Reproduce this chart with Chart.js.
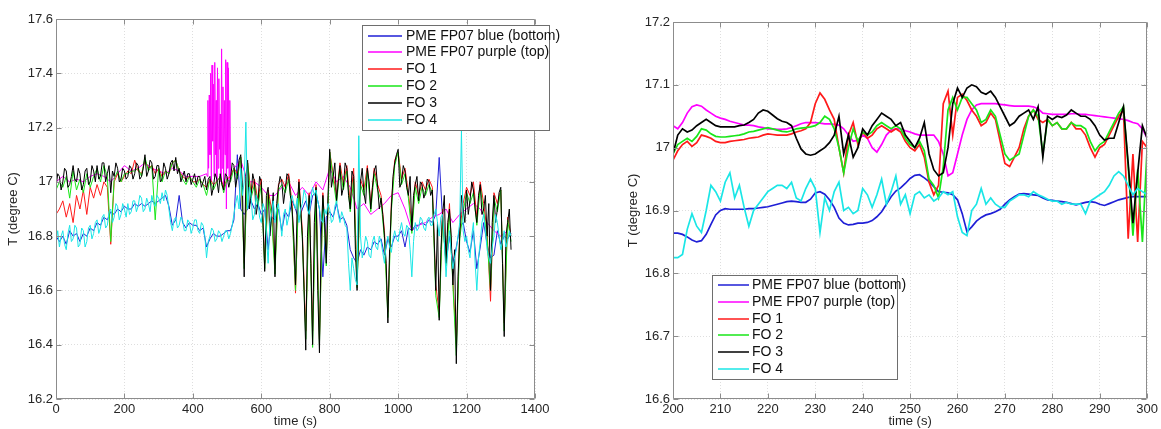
<!DOCTYPE html>
<html><head><meta charset="utf-8">
<script src="https://cdn.jsdelivr.net/npm/chart.js@4.4.1/dist/chart.umd.min.js"></script>
<style>
html,body{margin:0;padding:0;background:#fff;width:1161px;height:429px;overflow:hidden}
#cl{position:absolute;left:0;top:0}
#cr{position:absolute;left:580px;top:0}
</style></head><body>
<canvas id="cl" width="580" height="429"></canvas>
<canvas id="cr" width="581" height="429"></canvas>
<script>
// ---------- series labels ----------
const seriesLabels = ['PME FP07 blue (bottom)','PME FP07 purple (top)','FO 1','FO 2','FO 3','FO 4'];
const seriesColors = ['#1f1fd6','#ff00ff','#ff1a1a','#19e619','#000000','#1ae6e6'];

// ---------- LEFT panel (0-1400 s) ----------
const leftTimes = [0,10,20,30,40,50,60,70,80,90,100,110,120,130,140,150,160,170,180,190,
200,210,220,230,240,250,260,270,280,290,300,310,320,330,340,350,360,370,380,390,
400,410,420,430,440,450,460,470,480,490,500,510,520,530,540,550,560,570,580,590,
600,610,620,630,640,650,660,670,680,690,700,710,720,730,740,750,760,770,780,790,
800,810,820,830,840,850,860,870,880,890,900,910,920,930,940,950,960,970,980,990,
1000,1010,1020,1030,1040,1050,1060,1070,1080,1090,1100,1110,1120,1130,1140,1150,1160,1170,1180,1190,
1200,1210,1220,1230,1240,1250,1260,1270,1280,1290,1300,1310,1320,1330];

const leftFineTimes = [0,5,10,15,20,25,30,35,40,45,50,55,60,65,70,75,80,85,90,95,
100,105,110,115,120,125,130,135,140,145,150,155,160,165,170,175,180,185,190,195,
200,205,210,215,220,225,230,235,240,245,250,255,260,265,270,275,280,285,290,295,
300,305,310,315,320,325,330,335,340,345,350,355,360,365,370,375,380,385,390,395,
400,405,410,415,420,425,430,435,440,445,450,455,460,465,470,475,480,485,490,495,
500,505,510,515,520,525,530,535,540,545,550,555,560,565,570,575,580,585,590,595,
600,605,610,615,620,625,630,635,640,645,650,655,660,665,670,675,680,685,690,695,
700,705,710,715,720,725,730,735,740,745,750,755,760,765,770,775,780,785,790,795,
800,805,810,815,820,825,830,835,840,845,850,855,860,865,870,875,880,885,890,895,
900,905,910,915,920,925,930,935,940,945,950,955,960,965,970,975,980,985,990,995,
1000,1005,1010,1015,1020,1025,1030,1035,1040,1045,1050,1055,1060,1065,1070,1075,1080,1085,1090,1095,
1100,1105,1110,1115,1120,1125,1130,1135,1140,1145,1150,1155,1160,1165,1170,1175,1180,1185,1190,1195,
1200,1205,1210,1215,1220,1225,1230,1235,1240,1245,1250,1255,1260,1265,1270,1275,1280,1285,1290,1295,
1300,1305,1310,1315,1320,1325,1330];

const leftBlue = [16.80,16.78,16.80,16.77,16.82,16.80,16.81,16.78,16.81,16.80,
16.83,16.82,16.85,16.84,16.87,16.86,16.89,16.88,16.90,16.89,
16.91,16.90,16.90,16.92,16.91,16.92,16.91,16.92,16.93,16.92,
16.93,16.94,16.95,16.91,16.84,16.86,16.95,16.85,16.83,16.85,
16.84,16.84,16.82,16.83,16.76,16.79,16.81,16.80,16.80,16.81,
16.82,16.82,16.86,17.10,16.90,16.88,16.90,16.93,16.90,16.92,
16.88,16.90,16.75,16.87,16.86,16.90,16.82,16.89,16.87,16.93,
16.90,16.86,16.90,16.93,16.88,16.95,16.96,16.90,16.65,16.87,
16.89,16.87,16.92,16.86,16.87,16.84,16.75,16.72,16.70,16.75,
16.73,16.76,16.75,16.78,16.77,16.79,16.73,16.79,16.76,16.80,
16.80,16.82,16.76,16.83,16.82,16.84,16.84,16.85,16.84,16.86,
16.85,16.88,17.09,16.86,16.70,16.80,16.70,16.76,16.83,16.85,
16.78,16.74,16.82,16.68,16.76,16.85,16.77,16.72,16.73,16.82,
16.77,16.80,16.79,16.81];

const leftPurpleTimes = [0,20,40,60,80,100,120,140,160,180,200,220,240,260,280,300,320,340,360,380,400,420,440,
442,444,446,448,450,452,454,456,458,460,462,464,466,468,470,472,474,476,478,480,482,484,486,488,490,492,494,496,498,500,502,504,506,508,510,
520,540,560,580,600,620,640,660,680,700,720,740,760,780,800,820,840,860,880,900,920,940,960,980,1000,
1020,1040,1060,1080,1100,1120,1140,1160,1180,1200,1220,1240,1260,1280,1300,1320];
const leftPurple = [17.00,17.02,17.00,17.01,17.00,17.02,17.03,17.02,17.00,17.03,17.06,17.04,17.05,17.07,17.05,17.04,17.03,17.05,17.04,17.02,17.02,17.02,17.03,
17.02,17.30,17.05,17.32,17.10,17.40,17.00,17.43,17.15,17.36,17.02,17.44,17.10,17.30,17.00,17.42,17.05,17.38,17.12,17.25,17.00,17.49,17.05,17.35,16.96,17.30,17.10,17.45,16.90,17.44,17.05,17.42,17.00,17.30,17.02,
17.05,17.08,17.00,17.00,16.98,16.95,16.95,16.98,17.00,16.95,16.98,16.95,17.00,16.97,17.05,17.00,17.02,16.98,16.90,16.92,16.88,16.90,16.92,16.95,16.96,
16.90,16.82,16.84,16.85,16.87,16.88,16.90,16.85,16.88,16.90,16.92,16.90,16.85,16.82,16.80,16.82];

const leftFO1 = [16.88,16.90,16.93,16.87,16.92,16.85,16.95,16.90,16.97,16.88,
16.98,16.94,16.99,16.95,17.00,16.98,16.77,17.00,17.03,17.00,
17.02,17.04,17.03,17.08,17.04,17.03,17.08,17.05,17.06,17.03,
17.05,17.02,17.04,17.03,17.07,17.08,17.04,17.02,17.01,17.02,
17.00,17.00,17.01,16.99,16.98,17.01,16.99,17.00,17.02,16.98,
17.01,17.02,17.05,17.03,17.09,16.70,17.07,16.96,17.01,16.93,
17.01,16.70,16.97,16.90,16.68,16.99,17.01,16.98,17.03,16.92,
16.59,17.01,16.82,16.45,16.96,16.45,16.99,16.42,16.96,16.72,
17.11,17.03,16.95,17.07,16.99,17.06,16.92,17.05,16.63,17.01,
16.97,17.06,16.92,17.05,16.99,16.95,16.82,16.52,16.92,17.08,
17.11,17.01,17.05,16.96,16.84,17.00,16.95,17.00,16.97,17.01,
16.98,16.62,16.52,16.90,16.72,16.92,16.64,16.40,16.82,16.92,
16.98,16.95,17.00,16.87,17.00,16.92,16.82,16.56,16.96,16.92,
16.97,16.48,16.87,16.80];

const leftFO2 = [16.97,17.00,16.98,17.02,16.94,17.04,16.97,17.01,16.96,17.03,
16.98,17.02,17.05,17.00,17.06,17.02,16.78,17.01,17.04,17.00,
17.03,17.03,17.04,17.04,17.05,17.02,17.09,17.04,17.06,16.86,
17.05,17.00,17.04,17.03,17.07,17.08,17.04,17.01,16.99,17.02,
17.00,16.98,17.01,16.99,16.95,17.01,16.97,17.00,17.02,16.96,
17.01,17.00,17.05,17.01,17.09,16.68,17.07,16.94,16.99,16.91,
16.99,16.68,16.96,16.87,16.66,16.97,16.99,16.96,17.01,16.89,
16.60,16.99,16.79,16.42,16.94,16.39,16.97,16.40,16.94,16.69,
17.11,17.01,16.92,17.05,16.97,17.04,16.89,17.01,16.61,16.99,
16.95,17.04,16.89,17.03,16.97,16.93,16.79,16.50,16.89,17.06,
17.11,16.99,17.03,16.94,16.81,16.98,16.92,16.98,16.95,16.99,
16.96,16.58,16.50,16.87,16.69,16.89,16.62,16.36,16.79,16.89,
16.96,16.92,16.96,16.84,16.98,16.89,16.79,16.60,16.94,16.89,
16.97,16.45,16.86,16.78];

const leftFO3 = [16.98,17.03,17.02,16.97,17.00,17.05,17.04,16.98,16.99,17.02,17.06,17.01,17.00,17.05,17.03,16.97,16.99,17.04,17.05,16.99,
17.00,17.06,17.04,17.00,17.06,17.01,17.02,17.07,17.07,17.00,17.03,17.06,16.96,17.04,17.02,17.07,17.05,17.00,17.01,17.05,
17.04,17.01,17.02,17.06,17.05,17.01,17.03,17.07,17.06,17.01,17.02,17.05,17.10,17.02,17.04,17.08,17.07,17.01,17.02,17.06,
17.06,17.00,17.01,17.07,17.05,17.01,17.03,17.07,17.08,17.04,17.09,17.03,17.05,17.00,17.02,17.04,17.00,17.03,17.03,16.99,
17.01,17.03,16.99,17.02,17.02,16.98,17.00,17.02,16.97,17.01,17.02,16.95,16.98,17.03,17.01,16.96,17.03,16.99,16.97,17.03,
17.02,16.98,17.01,17.07,17.06,16.98,17.02,17.08,17.10,16.98,16.65,17.02,17.08,16.90,16.95,17.03,17.00,16.88,16.92,17.02,
17.00,16.85,16.67,16.95,16.98,16.80,16.88,16.96,16.65,16.92,16.98,17.02,17.00,16.92,16.97,17.03,17.02,16.95,16.90,16.80,
16.62,16.92,17.00,16.90,16.80,16.60,16.38,16.80,16.95,16.70,16.40,16.85,16.98,16.60,16.37,16.80,16.95,16.85,16.70,16.95,
17.12,16.98,17.02,17.07,16.93,17.00,17.06,16.95,16.98,17.07,17.05,16.95,16.90,17.04,17.02,16.75,16.60,16.90,17.00,17.05,
16.96,16.92,17.05,17.00,16.90,16.98,17.04,17.06,16.98,16.90,16.94,16.88,16.80,16.70,16.48,16.75,16.90,17.02,17.07,17.10,
17.12,16.98,17.00,17.06,17.04,16.98,16.95,17.02,16.82,16.95,16.99,17.02,16.93,17.00,16.99,16.94,16.96,17.01,17.00,16.95,
16.97,16.80,16.60,16.85,16.49,16.75,16.88,16.95,16.70,16.85,16.90,16.80,16.62,16.75,16.33,16.65,16.80,16.95,16.90,16.85,
16.97,16.88,16.93,17.00,16.97,16.90,16.85,16.95,16.99,16.88,16.90,16.95,16.80,16.92,16.60,16.85,16.95,16.85,16.90,16.96,
16.98,16.70,16.43,16.80,16.85,16.90,16.75];

const leftFO4 = [16.78,16.82,16.76,16.80,16.82,16.77,16.75,16.81,16.84,16.78,16.79,16.84,16.83,16.76,16.77,16.83,16.82,16.76,16.78,16.83,
16.84,16.79,16.81,16.85,16.86,16.81,16.83,16.87,16.88,16.83,16.84,16.89,16.90,16.85,16.87,16.92,16.91,16.86,16.88,16.92,
16.90,16.87,16.92,16.88,16.89,16.93,16.93,16.89,16.91,16.95,16.94,16.89,16.90,16.94,16.92,16.89,16.95,16.92,16.91,16.95,
16.94,16.92,16.96,16.93,16.97,16.95,16.90,16.85,16.82,16.86,16.87,16.83,16.84,16.87,16.86,16.82,16.82,16.86,16.85,16.81,
16.83,16.86,16.86,16.82,16.81,16.85,16.84,16.80,16.72,16.78,16.80,16.83,16.82,16.78,16.79,16.82,16.81,16.78,16.80,16.82,
16.82,16.79,16.81,16.84,16.88,16.92,16.95,16.90,17.05,16.95,17.00,17.22,16.90,16.98,16.95,16.86,16.88,16.95,16.93,16.87,
16.85,16.92,16.90,16.80,16.70,16.85,16.88,16.93,16.85,16.90,16.92,16.86,16.80,16.88,16.90,16.84,16.87,16.93,16.95,16.92,
16.90,16.94,16.85,16.90,16.92,16.97,16.95,16.90,16.88,16.94,16.98,16.95,16.97,16.93,16.90,16.86,16.85,16.90,16.88,16.92,
16.90,16.85,16.86,16.91,16.93,16.88,16.85,16.89,16.87,16.84,16.83,16.70,16.60,16.72,16.68,16.64,16.62,17.17,16.80,16.72,
16.75,16.80,16.78,16.73,16.72,16.78,16.80,16.76,16.75,16.80,16.78,16.74,16.70,16.77,16.80,16.76,16.74,16.79,16.82,16.79,
16.78,16.82,16.85,16.81,16.80,16.84,16.83,16.75,16.65,16.78,16.85,16.82,16.83,16.87,16.86,16.83,16.82,16.86,16.87,16.84,
16.84,16.88,16.90,16.85,16.80,16.87,16.88,16.78,16.65,16.75,16.82,16.74,16.68,16.72,16.75,16.80,16.85,17.19,16.82,16.78,
16.80,16.75,16.72,16.80,16.85,16.70,16.60,16.72,16.78,16.85,16.88,16.82,16.75,16.72,16.70,16.76,16.80,16.88,16.85,16.80,
16.75,16.78,16.82,16.76,16.78,16.82,16.80];

const leftXTicks = [0,200,400,600,800,1000,1200,1400];
const leftYTicks = [16.2,16.4,16.6,16.8,17.0,17.2,17.4,17.6];

// ---------- RIGHT panel (200-300 s) ----------
const rightTimes = [200,201,202,203,204,205,206,207,208,209,210,211,212,213,214,215,216,217,218,219,
220,221,222,223,224,225,226,227,228,229,230,231,232,233,234,235,236,237,238,239,
240,241,242,243,244,245,246,247,248,249,250,251,252,253,254,255,256,257,258,259,
260,261,262,263,264,265,266,267,268,269,270,271,272,273,274,275,276,277,278,279,
280,281,282,283,284,285,286,287,288,289,290,291,292,293,294,295,296,297,298,299,300];

const rightBlue = [16.864,16.864,16.862,16.858,16.853,16.850,16.852,16.862,16.878,16.893,
16.900,16.903,16.902,16.902,16.902,16.902,16.903,16.903,16.904,16.905,
16.906,16.908,16.910,16.912,16.914,16.915,16.914,16.913,16.913,16.918,
16.928,16.930,16.926,16.917,16.905,16.888,16.880,16.877,16.878,16.880,
16.880,16.881,16.884,16.890,16.898,16.910,16.922,16.931,16.936,16.943,
16.951,16.956,16.957,16.952,16.946,16.938,16.930,16.929,16.928,16.925,
16.917,16.895,16.866,16.874,16.883,16.889,16.893,16.895,16.898,16.902,
16.910,16.917,16.922,16.926,16.927,16.926,16.925,16.924,16.920,16.917,
16.916,16.915,16.914,16.913,16.911,16.909,16.911,16.913,16.914,16.913,
16.910,16.908,16.911,16.914,16.917,16.919,16.921,16.922,16.922,16.922,16.922];

const rightPurple = [17.035,17.030,17.040,17.055,17.065,17.068,17.066,17.060,17.055,17.050,
17.047,17.045,17.042,17.040,17.038,17.036,17.036,17.035,17.033,17.032,
17.030,17.030,17.029,17.029,17.030,17.032,17.035,17.038,17.040,17.040,
17.040,17.039,17.038,17.038,17.037,17.036,17.030,17.020,17.010,17.012,
17.020,17.015,17.000,16.993,17.005,17.020,17.028,17.030,17.030,17.027,
17.025,17.022,17.020,17.020,17.020,17.020,17.010,16.990,16.955,16.960,
16.990,17.020,17.045,17.060,17.068,17.070,17.070,17.070,17.070,17.069,
17.068,17.067,17.066,17.066,17.066,17.066,17.065,17.062,17.055,17.054,
17.053,17.053,17.053,17.053,17.054,17.054,17.053,17.053,17.052,17.051,
17.050,17.049,17.048,17.047,17.046,17.045,17.043,17.040,17.038,17.030,17.015];

const rightFO1 = [16.980,16.995,17.005,17.010,17.002,17.008,17.020,17.018,17.015,17.010,
17.008,17.008,17.010,17.011,17.012,17.013,17.015,17.016,17.017,17.020,
17.022,17.021,17.020,17.020,17.020,17.022,17.025,17.027,17.030,17.040,
17.070,17.087,17.077,17.060,17.045,17.000,16.960,17.020,17.040,17.005,
17.025,17.015,17.020,17.030,17.035,17.030,17.025,17.030,17.025,17.010,
17.000,16.995,17.005,16.985,16.945,16.925,16.940,17.070,17.090,17.020,
17.080,17.085,17.075,17.060,17.050,17.035,17.040,17.055,17.045,17.010,
16.975,16.970,16.985,17.000,17.030,17.050,17.060,17.045,17.040,17.045,
17.035,17.040,17.030,17.030,17.040,17.030,17.030,17.020,17.000,16.985,
17.000,17.005,17.020,17.035,17.050,17.060,16.855,16.990,16.850,17.010,17.000];

const rightFO2 = [16.990,17.005,17.010,17.015,17.010,17.018,17.030,17.028,17.022,17.018,
17.017,17.017,17.018,17.019,17.020,17.022,17.025,17.026,17.028,17.030,
17.032,17.030,17.028,17.026,17.025,17.027,17.030,17.031,17.032,17.033,
17.035,17.040,17.050,17.045,17.030,17.000,16.960,17.000,17.030,17.010,
17.025,17.020,17.025,17.035,17.040,17.035,17.030,17.035,17.030,17.015,
17.005,17.000,17.010,16.995,16.950,16.940,16.920,16.970,17.060,17.080,
17.060,17.080,17.080,17.070,17.060,17.040,17.045,17.060,17.050,17.020,
16.990,16.980,16.985,16.990,17.020,17.050,17.060,17.050,16.990,17.045,
17.035,17.040,17.030,17.030,17.040,17.035,17.035,17.030,17.010,16.995,
17.005,17.010,17.025,17.040,17.055,17.065,16.970,16.860,16.965,16.850,17.000];

const rightFO3 = [16.990,17.020,17.030,17.025,17.028,17.035,17.040,17.045,17.040,17.035,
17.033,17.033,17.033,17.033,17.035,17.036,17.040,17.045,17.055,17.060,
17.058,17.052,17.046,17.042,17.040,17.035,17.015,16.998,16.990,16.988,
16.990,16.995,17.000,17.008,17.020,17.050,16.990,17.020,16.985,17.000,
17.030,17.020,17.035,17.045,17.055,17.050,17.045,17.035,17.040,17.020,
17.010,17.000,17.015,17.040,16.990,16.965,16.955,16.960,17.000,17.070,
17.095,17.080,17.095,17.100,17.097,17.088,17.085,17.090,17.080,17.065,
17.050,17.035,17.040,17.050,17.055,17.060,17.045,17.065,16.985,17.050,
17.045,17.050,17.048,17.052,17.060,17.055,17.050,17.050,17.045,17.035,
17.020,17.012,17.015,17.015,17.040,17.065,16.975,16.880,16.960,17.035,17.015];

const rightFO4 = [16.825,16.825,16.830,16.870,16.895,16.875,16.865,16.900,16.940,16.930,
16.915,16.945,16.960,16.920,16.940,16.905,16.875,16.900,16.910,16.920,
16.930,16.935,16.940,16.940,16.935,16.945,16.920,16.915,16.935,16.950,
16.935,16.865,16.920,16.900,16.930,16.945,16.900,16.905,16.895,16.900,
16.935,16.925,16.905,16.925,16.950,16.910,16.930,16.955,16.910,16.925,
16.895,16.925,16.930,16.920,16.925,16.915,16.920,16.930,16.925,16.930,
16.890,16.865,16.860,16.900,16.910,16.935,16.910,16.920,16.910,16.905,
16.905,16.915,16.920,16.925,16.925,16.922,16.930,16.925,16.922,16.918,
16.915,16.915,16.910,16.913,16.910,16.910,16.910,16.895,16.915,16.920,
16.925,16.930,16.940,16.955,16.962,16.955,16.940,16.925,16.935,16.930,16.925];

const rightXTicks = [200,210,220,230,240,250,260,270,280,290,300];
const rightYTicks = [16.6,16.7,16.8,16.9,17.0,17.1,17.2];

// ---------- helpers ----------
const FONT = '"Liberation Sans", Arial, Helvetica, sans-serif';
const pts = (xs, ys) => xs.map((t, i) => ({x: t, y: ys[i]}));
const fmt = v => String(+(+v).toFixed(2));

const matlabFrame = {
  id: 'matlabFrame',
  afterDatasetsDraw(chart, args, o) {
    const {ctx, chartArea: a, scales: {x, y}} = chart;
    ctx.save();
    ctx.strokeStyle = '#8c8c8c';
    ctx.lineWidth = 1;
    const L = Math.round(a.left) + 0.5, R = Math.round(a.right) - 0.5;
    const T = Math.round(a.top) + 0.5, B = Math.round(a.bottom) - 0.5;
    ctx.beginPath();
    ctx.rect(L, T, R - L, B - T);
    x.ticks.forEach(t => {
      const p = Math.round(x.getPixelForValue(t.value)) + 0.5;
      ctx.moveTo(p, B); ctx.lineTo(p, B - 5);
      ctx.moveTo(p, T); ctx.lineTo(p, T + 5);
    });
    y.ticks.forEach(t => {
      const p = Math.round(y.getPixelForValue(t.value)) + 0.5;
      ctx.moveTo(L, p); ctx.lineTo(L + 5, p);
      ctx.moveTo(R, p); ctx.lineTo(R - 5, p);
    });
    ctx.stroke();
    // legend box
    const lg = o.legend;
    ctx.fillStyle = '#fff';
    ctx.fillRect(lg.x, lg.y, lg.w, lg.h);
    ctx.strokeStyle = '#6e6e6e';
    ctx.lineWidth = 1;
    ctx.strokeRect(lg.x + 0.5, lg.y + 0.5, lg.w, lg.h);
    ctx.font = '14px ' + FONT;
    ctx.textBaseline = 'middle';
    ctx.textAlign = 'left';
    chart.data.datasets.forEach((d, i) => {
      const yy = Math.round(lg.y + lg.row0 + i * lg.rowH);
      ctx.strokeStyle = seriesColors[i];
      ctx.lineWidth = 1.5;
      ctx.beginPath();
      ctx.moveTo(lg.x + lg.l0, yy); ctx.lineTo(lg.x + lg.l1, yy);
      ctx.stroke();
      ctx.fillStyle = '#111';
      ctx.fillText(d.label, lg.x + lg.tx, yy);
    });
    ctx.restore();
  }
};

function makeChart(id, sets, xr, yr, xTicks, yTicks, opt) {
  const orders = [6, 5, 4, 3, 2, 1];
  return new Chart(document.getElementById(id), {
    type: 'line',
    data: {
      datasets: sets.map((s, i) => ({
        label: seriesLabels[i],
        data: s,
        borderColor: seriesColors[i],
        backgroundColor: seriesColors[i],
        borderWidth: opt.lw,
        pointRadius: 0,
        tension: 0,
        fill: false,
        order: orders[i]
      }))
    },
    options: {
      responsive: false,
      animation: false,
      events: [],
      layout: {padding: opt.pad},
      plugins: {legend: {display: false}, tooltip: {enabled: false}, matlabFrame: {legend: opt.legend}},
      scales: {
        x: {
          type: 'linear', min: xr[0], max: xr[1],
          afterBuildTicks: s => { s.ticks = xTicks.map(v => ({value: v})); },
          afterFit: s => { s.height = 30; },
          grid: {color: 'rgba(0,0,0,0.13)', drawTicks: false, lineWidth: 1},
          border: {display: false, dash: [1, 2]},
          ticks: {padding: 3, color: '#262626', font: {size: 13, family: FONT}, maxRotation: 0, autoSkip: false, callback: v => fmt(v)},
          title: {display: true, text: 'time (s)', color: '#262626', font: {size: 13, family: FONT}, padding: {top: 0, bottom: 0}}
        },
        y: {
          type: 'linear', min: yr[0], max: yr[1],
          afterBuildTicks: s => { s.ticks = yTicks.map(v => ({value: v})); },
          afterFit: s => { s.width = opt.yw; },
          grid: {color: 'rgba(0,0,0,0.13)', drawTicks: false, lineWidth: 1},
          border: {display: false, dash: [1, 2]},
          ticks: {padding: 3, color: '#262626', font: {size: 13, family: FONT}, autoSkip: false, callback: v => fmt(v)},
          title: {display: true, text: 'T (degree C)', color: '#262626', font: {size: 13, family: FONT}, padding: {top: opt.yTitlePad, bottom: 0}}
        }
      }
    },
    plugins: [matlabFrame]
  });
}

makeChart('cl', [
  pts(leftTimes, leftBlue),
  pts(leftPurpleTimes, leftPurple),
  pts(leftTimes, leftFO1),
  pts(leftTimes, leftFO2),
  pts(leftFineTimes, leftFO3),
  pts(leftFineTimes, leftFO4)
], [0, 1400], [16.2, 17.6], leftXTicks, leftYTicks, {
  lw: 1, yw: 56, yTitlePad: 6,
  pad: {left: 0, top: 19, right: 45, bottom: 0},
  legend: {x: 362, y: 25, w: 187, h: 105, row0: 10.5, rowH: 16.8, l0: 6, l1: 40, tx: 44}
});

makeChart('cr', [
  pts(rightTimes, rightBlue),
  pts(rightTimes, rightPurple),
  pts(rightTimes, rightFO1),
  pts(rightTimes, rightFO2),
  pts(rightTimes, rightFO3),
  pts(rightTimes, rightFO4)
], [200, 300], [16.6, 17.2], rightXTicks, rightYTicks, {
  lw: 1.7, yw: 93, yTitlePad: 46,
  pad: {left: 0, top: 22, right: 12, bottom: 0},
  legend: {x: 132, y: 275, w: 185, h: 104, row0: 10, rowH: 16.8, l0: 6, l1: 37, tx: 40}
});
</script>
</body></html>
